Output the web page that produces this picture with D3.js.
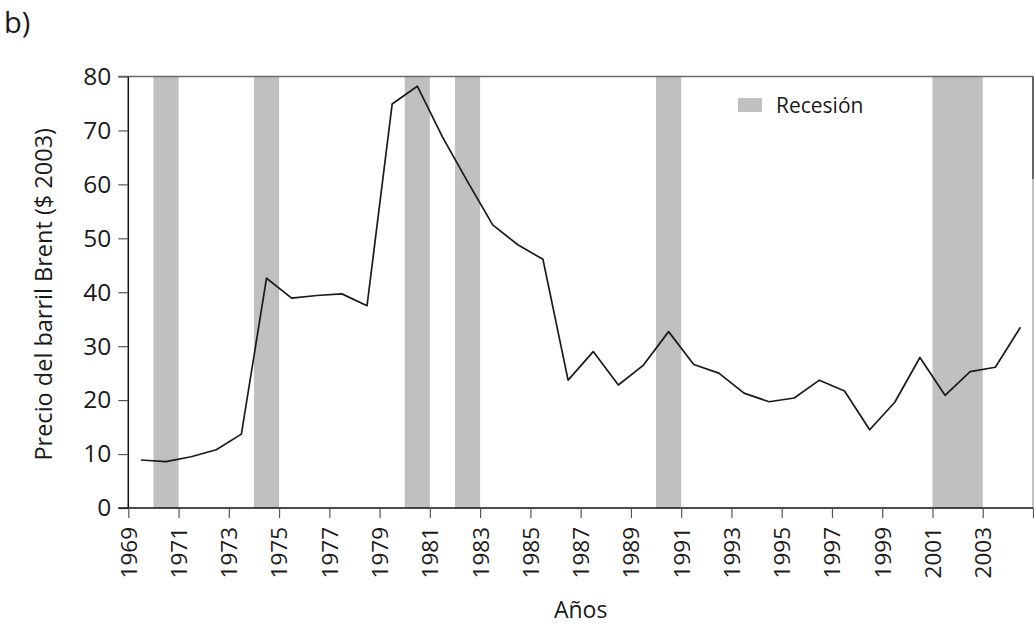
<!DOCTYPE html>
<html>
<head>
<meta charset="utf-8">
<script src="https://cdn.jsdelivr.net/npm/d3@7"></script>
<style>
  html, body { margin: 0; padding: 0; background: #fff; }
  svg { display: block; font-family: "Open Sans", "Noto Sans", sans-serif; }
</style>
</head>
<body>
<svg id="chart" width="1034" height="625"></svg>
<script>
// ---- data ----
const years = [1969,1970,1971,1972,1973,1974,1975,1976,1977,1978,1979,1980,1981,1982,1983,1984,1985,1986,1987,1988,1989,1990,1991,1992,1993,1994,1995,1996,1997,1998,1999,2000,2001,2002,2003,2004];
const prices = [8.9,8.6,9.5,10.8,13.7,42.6,38.9,39.4,39.7,37.5,74.9,78.2,68.8,60.5,52.5,48.8,46.1,23.7,29.0,22.8,26.5,32.7,26.6,25.0,21.3,19.7,20.4,23.7,21.7,14.5,19.6,27.9,20.9,25.3,26.1,33.5];
const recessionStart = [1970,1974,1980,1982,1990,2001];
const recessionEnd   = [1971,1975,1981,1983,1991,2003];
const xTicks = [1969,1971,1973,1975,1977,1979,1981,1983,1985,1987,1989,1991,1993,1995,1997,1999,2001,2003,2005];
const xTickLabels = ["1969","1971","1973","1975","1977","1979","1981","1983","1985","1987","1989","1991","1993","1995","1997","1999","2001","2003",""];
const yTicks = [0,10,20,30,40,50,60,70,80];
const yTickLabels = ["0","10","20","30","40","50","60","70","80"];
const legendLabel = "Recesión";
const xTitle = "Años";
const yTitle = "Precio del barril Brent ($ 2003)";
const panelLabel = "b)";

// ---- layout ----
const L = 128.3, R = 1033, T = 76.5, B = 508;
const svg = d3.select("#chart");
const x = d3.scaleLinear().domain([1969, 2005]).range([L, R]);
const y = d3.scaleLinear().domain([0, 80]).range([B, T]);

// recession bands
svg.append("g").selectAll("rect")
  .data(recessionStart.map((s, i) => ({s, e: recessionEnd[i]})))
  .join("rect")
  .attr("x", d => x(d.s))
  .attr("width", d => x(d.e) - x(d.s))
  .attr("y", y(80))
  .attr("height", y(0) - y(80))
  .attr("fill", "#c0c0c0");

// top and right frame
svg.append("line").attr("x1", L - 10).attr("x2", R).attr("y1", y(80)).attr("y2", y(80))
  .attr("stroke", "#6a6a6a").attr("stroke-width", 1.5);
svg.append("line").attr("x1", R).attr("x2", R).attr("y1", y(80)).attr("y2", y(61))
  .attr("stroke", "#333").attr("stroke-width", 1.5);
svg.append("line").attr("x1", R).attr("x2", R).attr("y1", y(61)).attr("y2", y(0))
  .attr("stroke", "#888").attr("stroke-width", 1);

// line
const line = d3.line().x((d, i) => x(years[i] + 0.5)).y(d => y(d));
svg.append("path").datum(prices)
  .attr("d", line)
  .attr("fill", "none")
  .attr("stroke", "#1a1a1a")
  .attr("stroke-width", 1.7)
  .attr("stroke-linejoin", "round");

// y axis
const yAxis = d3.axisLeft(y).tickValues(yTicks).tickFormat((d, i) => yTickLabels[i]).tickSize(10).tickPadding(7);
const gy = svg.append("g").attr("transform", `translate(${L},0)`).call(yAxis);
gy.select(".domain").attr("stroke", "#111").attr("stroke-width", 1.5).attr("d", `M0,${T}V${B}`);
gy.selectAll(".tick line").attr("stroke", "#555").attr("stroke-width", 1.2);
gy.selectAll(".tick text").attr("font-size", 24.5).attr("fill", "#1a1a1a")
  .style("font-family", "'Open Sans', sans-serif");

// x axis
const xAxis = d3.axisBottom(x).tickValues(xTicks).tickFormat((d, i) => xTickLabels[i]).tickSize(10).tickPadding(0);
const gx = svg.append("g").attr("transform", `translate(0,${B})`).call(xAxis);
gx.select(".domain").attr("stroke", "#111").attr("stroke-width", 1.5).attr("d", `M${L - 10},0H${R}`);
gx.selectAll(".tick line").attr("stroke", "#555").attr("stroke-width", 1.2);
gx.selectAll(".tick text")
  .attr("font-size", 22.5).attr("fill", "#1a1a1a")
  .style("font-family", "'Open Sans', sans-serif")
  .attr("text-anchor", "end")
  .attr("dy", "0.35em")
  .attr("transform", "translate(0,19) rotate(-90)")
  .attr("x", 0).attr("y", 0);

// axis titles
svg.append("text").attr("x", (L + R) / 2).attr("y", 618)
  .attr("text-anchor", "middle").attr("font-size", 23).attr("fill", "#1a1a1a").text(xTitle);
svg.append("text").attr("transform", `translate(52,${(T + B) / 2 + 2}) rotate(-90)`)
  .attr("text-anchor", "middle").attr("font-size", 23.5).attr("fill", "#1a1a1a").text(yTitle);

// panel label
svg.append("text").attr("x", 4).attr("y", 33).attr("font-size", 29).attr("fill", "#1a1a1a").text(panelLabel);

// legend
svg.append("rect").attr("x", 738).attr("y", 98).attr("width", 24).attr("height", 14).attr("fill", "#c0c0c0");
svg.append("text").attr("x", 776).attr("y", 113).attr("font-size", 21).attr("fill", "#1a1a1a").text(legendLabel);
</script>
</body>
</html>
